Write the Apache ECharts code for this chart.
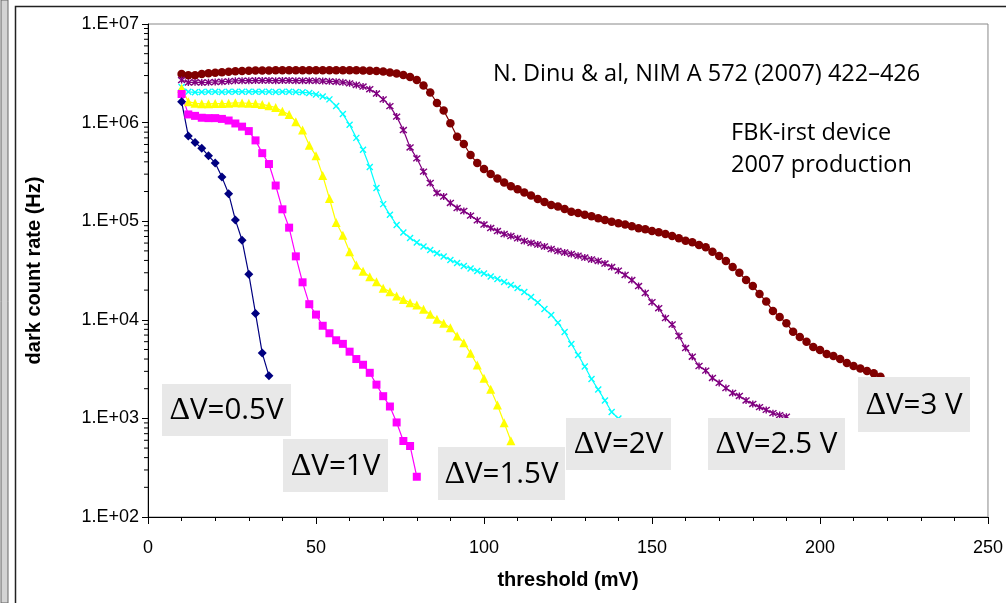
<!DOCTYPE html>
<html>
<head>
<meta charset="utf-8">
<script src="https://cdn.jsdelivr.net/npm/echarts@6/dist/echarts.min.js"></script>
<style>html,body{margin:0;padding:0;background:#fff;}#c{width:1006px;height:603px;}</style>
</head>
<body>
<div id="c"></div>
<script>
// threshold values (mV), shared by all series (index-paired)
const thresholdMV = [10,12,14,16,18,20,22,24,26,28,30,32,34,36,38,40,42,44,46,48,50,52,54,56,58,60,62,64,66,68,70,72,74,76,78,80,82,84,86,88,90,92,94,96,98,100,102,104,106,108,110,112,114,116,118,120,122,124,126,128,130,132,134,136,138,140,142,144,146,148,150,152,154,156,158,160,162,164,166,168,170,172,174,176,178,180,182,184,186,188,190,192,194,196,198,200,202,204,206,208,210,212,214,216,218];

const seriesNames = ['ΔV=0.5V','ΔV=1V','ΔV=1.5V','ΔV=2V','ΔV=2.5 V','ΔV=3 V'];

const dv05 = [1.63e6,7.3e5,6.3e5,5.5e5,4.6e5,3.9e5,2.8e5,1.9e5,1.03e5,6.4e4,2.9e4,1.16e4,4.6e3,2.7e3];
const dv10 = [1.95e6,1.21e6,1.17e6,1.12e6,1.11e6,1.11e6,1.09e6,1.05e6,9.8e5,9.1e5,8.2e5,6.6e5,4.9e5,3.8e5,2.3e5,1.32e5,8.6e4,4.4e4,2.4e4,1.44e4,1.13e4,8.7e3,7.3e3,6.2e3,5.7e3,4.75e3,4.0e3,3.5e3,2.9e3,2.2e3,1.68e3,1.32e3,9.1e2,5.9e2,5.25e2,2.56e2];
const dv15 = [2.23e6,1.63e6,1.57e6,1.55e6,1.55e6,1.56e6,1.56e6,1.57e6,1.59e6,1.58e6,1.57e6,1.56e6,1.53e6,1.48e6,1.42e6,1.30e6,1.21e6,1.02e6,8.4e5,5.9e5,4.6e5,2.9e5,1.7e5,9.7e4,7.2e4,4.9e4,3.6e4,3.1e4,2.73e4,2.43e4,2.09e4,1.93e4,1.74e4,1.61e4,1.49e4,1.41e4,1.28e4,1.14e4,1.01e4,9.2e3,8.3e3,6.85e3,5.86e3,4.57e3,3.48e3,2.55e3,1.97e3,1.37e3,9.05e2,5.94e2];
const dv20 = [2.3e6,2.05e6,2.03e6,2.04e6,2.05e6,2.05e6,2.04e6,2.05e6,2.06e6,2.05e6,2.05e6,2.06e6,2.05e6,2.05e6,2.04e6,2.05e6,2.05e6,2.04e6,2.03e6,2.0e6,1.93e6,1.84e6,1.72e6,1.47e6,1.22e6,9.5e5,7.0e5,5.3e5,3.55e5,2.17e5,1.49e5,1.16e5,9.15e4,7.7e4,6.76e4,6.08e4,5.54e4,5.1e4,4.72e4,4.39e4,4.04e4,3.77e4,3.51e4,3.31e4,3.12e4,2.95e4,2.75e4,2.59e4,2.42e4,2.25e4,2.1e4,1.91e4,1.7e4,1.5e4,1.29e4,1.12e4,9.35e3,7.52e3,5.68e3,4.4e3,3.36e3,2.51e3,1.96e3,1.52e3,1.16e3,1.0e3];
const dv25 = [2.7e6,2.55e6,2.57e6,2.55e6,2.56e6,2.58e6,2.6e6,2.62e6,2.65e6,2.66e6,2.66e6,2.67e6,2.67e6,2.67e6,2.66e6,2.67e6,2.67e6,2.66e6,2.66e6,2.66e6,2.65e6,2.64e6,2.62e6,2.6e6,2.56e6,2.5e6,2.41e6,2.32e6,2.18e6,1.97e6,1.72e6,1.47e6,1.15e6,8.4e5,5.6e5,4.34e5,3.18e5,2.44e5,1.93e5,1.78e5,1.53e5,1.36e5,1.27e5,1.14e5,1.02e5,9.25e4,8.53e4,7.95e4,7.41e4,7.07e4,6.71e4,6.3e4,6.02e4,5.8e4,5.54e4,5.22e4,4.99e4,4.82e4,4.65e4,4.47e4,4.28e4,4.09e4,3.95e4,3.72e4,3.43e4,3.15e4,2.85e4,2.53e4,2.2e4,1.87e4,1.51e4,1.31e4,1.04e4,8.96e3,6.85e3,5.17e3,4.22e3,3.4e3,3.05e3,2.57e3,2.29e3,2.03e3,1.81e3,1.69e3,1.52e3,1.4e3,1.3e3,1.22e3,1.13e3,1.08e3,1.04e3];
const dv30 = [3.11e6,3.02e6,3.02e6,3.11e6,3.16e6,3.21e6,3.24e6,3.28e6,3.31e6,3.33e6,3.35e6,3.37e6,3.38e6,3.38e6,3.39e6,3.39e6,3.4e6,3.4e6,3.39e6,3.39e6,3.4e6,3.4e6,3.39e6,3.39e6,3.4e6,3.39e6,3.39e6,3.38e6,3.36e6,3.33e6,3.3e6,3.22e6,3.15e6,3.04e6,2.9e6,2.7e6,2.38e6,2.02e6,1.58e6,1.33e6,9.84e5,7.19e5,6.07e5,4.69e5,3.89e5,3.38e5,3.01e5,2.71e5,2.47e5,2.26e5,2.11e5,1.95e5,1.82e5,1.68e5,1.57e5,1.46e5,1.41e5,1.33e5,1.25e5,1.21e5,1.16e5,1.12e5,1.07e5,1.03e5,9.89e4,9.52e4,9.26e4,8.87e4,8.47e4,8.28e4,7.96e4,7.73e4,7.41e4,7.08e4,6.71e4,6.34e4,6.11e4,5.74e4,5.44e4,4.91e4,4.44e4,3.95e4,3.43e4,3.0e4,2.53e4,2.2e4,1.83e4,1.53e4,1.23e4,1.07e4,9.22e3,7.57e3,6.69e3,6.0e3,5.3e3,4.94e3,4.5e3,4.29e3,4.0e3,3.64e3,3.4e3,3.2e3,3.03e3,2.87e3,2.65e3];

const xTickLabels = ['0','50','100','150','200','250'];
const yTickLabels = {2:'1.E+02',3:'1.E+03',4:'1.E+04',5:'1.E+05',6:'1.E+06',7:'1.E+07'};

function pair(vals){ return vals.map((v,i)=>[thresholdMV[i], v]); }

// minor tick positions of the log axis (2..9 x 10^k)
const minorTicks = [];
for (let k = 2; k < 7; k++) for (let m = 2; m <= 9; m++) minorTicks.push(m * Math.pow(10,k));

const crossPath = 'path://M0,0L10,10M10,0L0,10';
const starPath = 'path://M0,0L10,10M10,0L0,10M5,-1L5,11';

const chart = echarts.init(document.getElementById('c'), null, {renderer:'canvas'});

function lineSeries(name, vals, color, symbol, size, stroke){
  return {
    name, type:'line', data: pair(vals), symbol, symbolSize: size,
    lineStyle:{color, width:1.2}, showSymbol:true,
    itemStyle: stroke ? {color:'rgba(0,0,0,0)', borderColor:color, borderWidth:1.4} : {color, borderWidth:0},
    animation:false, z:3
  };
}

function box(x,y,w,h,label){
  return [
    {type:'rect', shape:{x:x,y:y,width:w,height:h}, style:{fill:'#e8e8e8'}, z:10},
    {type:'text', x:x+w/2, y:y+h/2+1, z:11, style:{
      text:'{d|Δ}{n|' + label + '}', align:'center', verticalAlign:'middle',
      rich:{ d:{fontFamily:'Liberation Serif', fontSize:32, fill:'#000'},
             n:{fontFamily:'Open Sans', fontSize:29.5, fill:'#000'} } }}
  ];
}

const option = {
  backgroundColor:'#fff',
  animation:false,
  grid:{left:148, right:16, top:24, bottom:86, show:true, borderColor:'#888', borderWidth:1, backgroundColor:'#fff'},
  xAxis:{
    type:'value', min:0, max:250, interval:50,
    name:'threshold (mV)', nameLocation:'middle', nameGap:53,
    nameTextStyle:{fontFamily:'Liberation Sans', fontWeight:'bold', fontSize:20, color:'#000'},
    axisLine:{show:true, lineStyle:{color:'#000', width:1}},
    axisTick:{show:true, length:7, lineStyle:{color:'#000'}},
    minorTick:{show:true, splitNumber:5, length:4, lineStyle:{color:'#000'}},
    splitLine:{show:false},
    axisLabel:{margin:22, fontFamily:'Liberation Sans', fontSize:18, color:'#000',
      formatter:(v)=>xTickLabels[Math.round(v/50)]}
  },
  yAxis:{
    type:'log', logBase:10, min:100, max:1e7,
    name:'dark count rate (Hz)', nameLocation:'middle', nameGap:104,
    nameTextStyle:{fontFamily:'Liberation Sans', fontWeight:'bold', fontSize:20, color:'#000'},
    axisLine:{show:true, lineStyle:{color:'#000', width:1}},
    axisTick:{show:true, length:6, lineStyle:{color:'#000'}},
    splitLine:{show:false},
    axisLabel:{margin:9, fontFamily:'Liberation Sans', fontSize:18, color:'#000',
      formatter:(v)=>yTickLabels[Math.round(Math.log10(v))]}
  },
  series:[
    {type:'custom', silent:true, clip:false, data: minorTicks.map(v=>[0,v]), z:5,
      renderItem:(params, api)=>{ const p = api.coord([api.value(0), api.value(1)]);
        return {type:'line', shape:{x1:p[0]-4, y1:p[1], x2:p[0], y2:p[1]}, style:{stroke:'#000', lineWidth:1}}; }},
    lineSeries(seriesNames[5], dv30, '#800000', 'circle', 8.5, false),
    lineSeries(seriesNames[4], dv25, '#800080', starPath, 7, true),
    lineSeries(seriesNames[3], dv20, '#00FFFF', crossPath, 6, true),
    lineSeries(seriesNames[2], dv15, '#FFFF00', 'triangle', 9, false),
    lineSeries(seriesNames[1], dv10, '#FF00FF', 'rect', 8, false),
    lineSeries(seriesNames[0], dv05, '#000080', 'diamond', 9, false)
  ],
  graphic:[
    {type:'rect', shape:{x:1,y:0,width:7,height:603}, style:{fill:'#d4d4d4', stroke:'#666', lineWidth:1}, z:20},
    {type:'rect', shape:{x:15.5,y:6.5,width:1000,height:700}, style:{fill:'none', stroke:'#222', lineWidth:1.5}, z:20},
    {type:'text', x:493, y:74, z:11, style:{text:'N. Dinu & al, NIM A 572 (2007) 422–426', fontFamily:'Open Sans', fontSize:23.5, fill:'#000', verticalAlign:'middle'}},
    {type:'text', x:731, y:133, z:11, style:{text:'FBK-irst device', fontFamily:'Open Sans', fontSize:23.5, fill:'#000', verticalAlign:'middle'}},
    {type:'text', x:731, y:165, z:11, style:{text:'2007 production', fontFamily:'Open Sans', fontSize:23.5, fill:'#000', verticalAlign:'middle'}},
    ...box(162,384,129,52,'V=0.5V'),
    ...box(283,439,105,53,'V=1V'),
    ...box(438,447,127,53,'V=1.5V'),
    ...box(566,418,105,52,'V=2V'),
    ...box(708,418,137,52,'V=2.5 V'),
    ...box(858,377,112,55,'V=3 V')
  ]
};
chart.setOption(option);
</script>
</body>
</html>
